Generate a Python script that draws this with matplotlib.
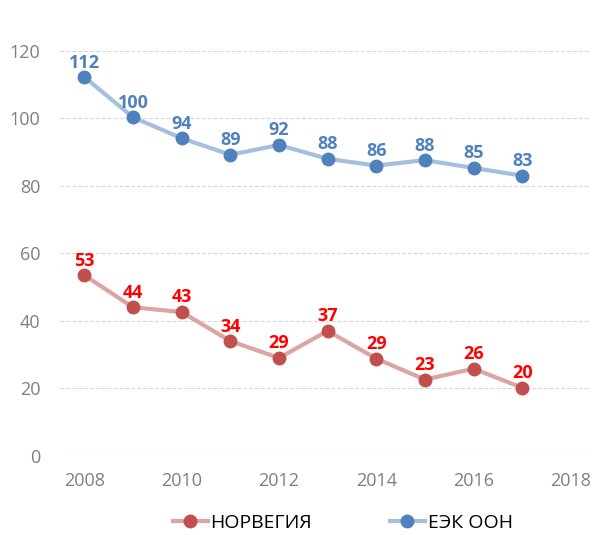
import matplotlib
matplotlib.use("Agg")
import matplotlib.pyplot as plt

years = [2008, 2009, 2010, 2011, 2012, 2013, 2014, 2015, 2016, 2017]
norway = [53.5, 44, 42.6, 34, 29, 37, 28.8, 22.6, 25.8, 20.2]
norway_labels = ["53", "44", "43", "34", "29", "37", "29", "23", "26", "20"]
unece = [112.2, 100.3, 94.1, 89.2, 92.1, 88, 86, 87.6, 85.3, 83]
unece_labels = ["112", "100", "94", "89", "92", "88", "86", "88", "85", "83"]
x_ticks = [2008, 2010, 2012, 2014, 2016, 2018]
y_ticks = [0, 20, 40, 60, 80, 100, 120]

plt.rcParams["font.family"] = ["Open Sans", "DejaVu Sans"]

fig = plt.figure(figsize=(5.95, 5.35), dpi=100)
ax = fig.add_axes([0.101, 0.148, 0.891, 0.757])

ax.plot(years, norway, color="#dba5a4", linewidth=3, marker="o", markersize=9,
        markerfacecolor="#c0504d", markeredgecolor="#c0504d", label="НОРВЕГИЯ", zorder=3)
ax.plot(years, unece, color="#a7bfde", linewidth=3, marker="o", markersize=9,
        markerfacecolor="#4f81bd", markeredgecolor="#4f81bd", label="ЕЭК ООН", zorder=3)

for x, y, t in zip(years, norway, norway_labels):
    ax.annotate(t, (x, y), xytext=(0, 4), textcoords="offset points", ha="center",
                va="bottom", color="#ff0000", fontsize=13, fontweight="bold",
                annotation_clip=False)
for x, y, t in zip(years, unece, unece_labels):
    ax.annotate(t, (x, y), xytext=(0, 4), textcoords="offset points", ha="center",
                va="bottom", color="#4f81bd", fontsize=13, fontweight="bold",
                annotation_clip=False)

ax.set_xlim(2007.5, 2018.4)
ax.set_ylim(0, 120)
ax.set_xticks(x_ticks)
ax.set_yticks(y_ticks)
ax.tick_params(length=0, labelsize=13, labelcolor="#7f7f7f")
ax.tick_params(axis="x", pad=12)
ax.tick_params(axis="y", pad=14)
ax.grid(axis="y", color="#d9d9d9", linestyle="--", linewidth=0.8)
for s in ax.spines.values():
    s.set_visible(False)

ax.legend(loc="upper center", bbox_to_anchor=(0.533, -0.1), ncol=2, frameon=False,
          fontsize=14, columnspacing=4.0, handlelength=1.8, handletextpad=0.15)

fig.savefig("out.png", dpi=100)
